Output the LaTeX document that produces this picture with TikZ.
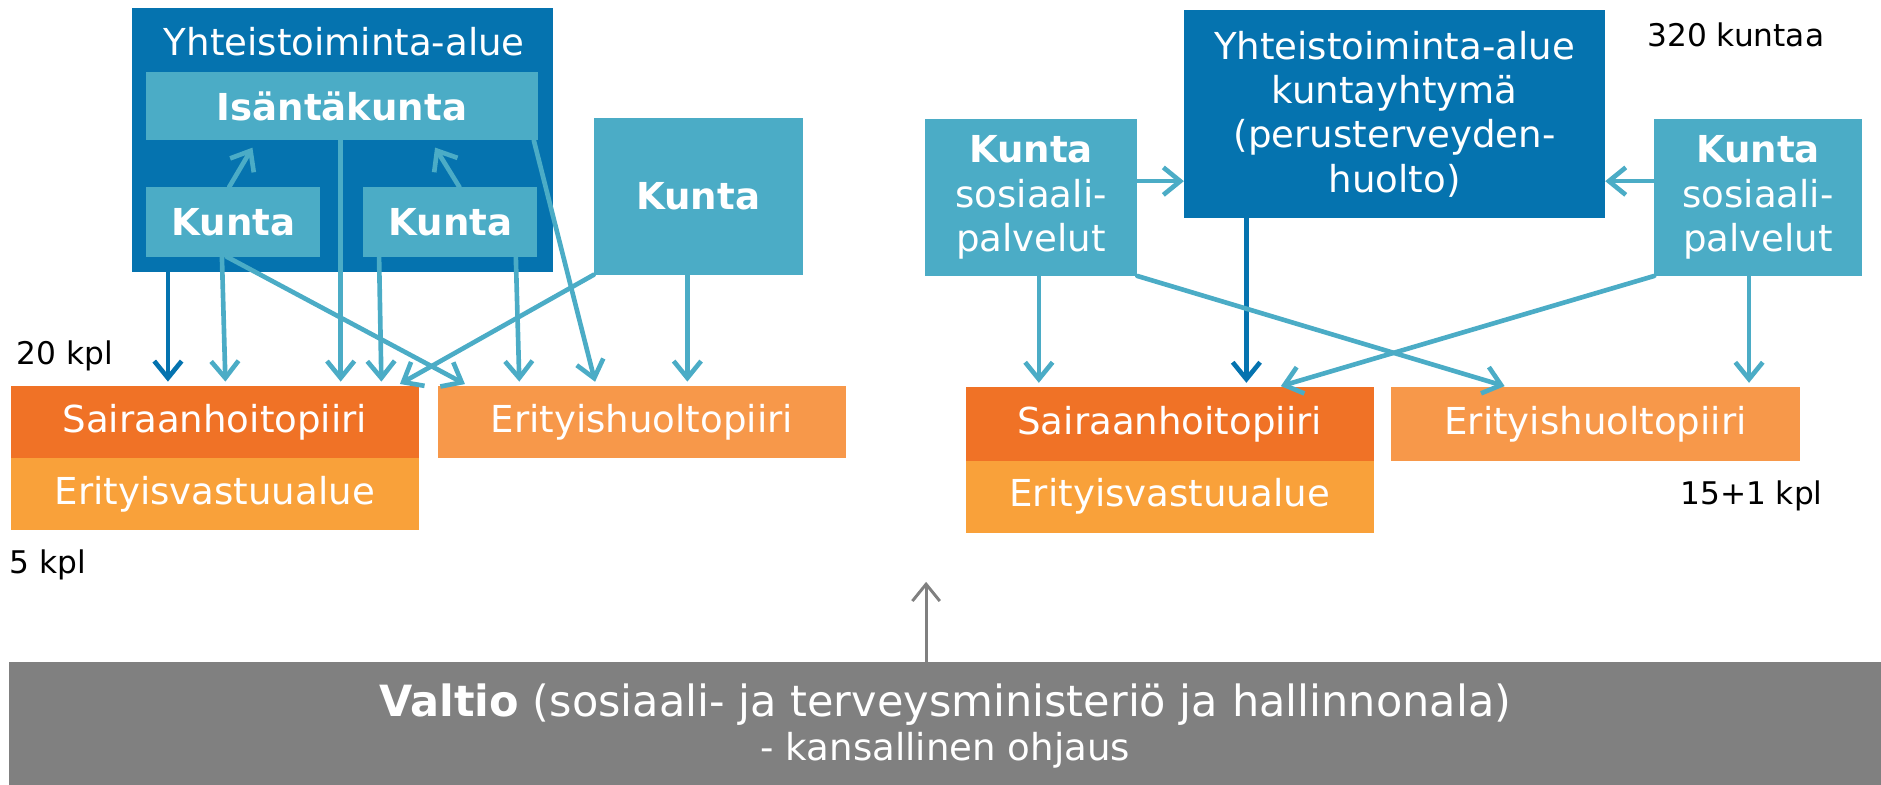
\documentclass[tikz,border=0pt]{standalone}
\usepackage{fontspec}
\setmainfont{DejaVu Sans}
\usepackage{tikz}
\usetikzlibrary{arrows.meta}
\definecolor{ytablue}{HTML}{0573AF}
\definecolor{kuntablue}{HTML}{4BACC6}
\definecolor{shporange}{HTML}{F07226}
\definecolor{ervaorange}{HTML}{F9A13A}
\definecolor{ehporange}{HTML}{F7984A}
\definecolor{valtiogray}{HTML}{808080}
\tikzset{
  box/.style={rectangle, inner sep=0pt, outer sep=0pt, text=white, align=center, font=\fontsize{8.8}{10.5}\selectfont},
  ytabox/.style={box, fill=ytablue},
  kuntabox/.style={box, fill=kuntablue},
  piiribox/.style={box, minimum width=3.40cm, minimum height=0.60cm},
  conn/.style={->, line width=1.1pt, draw=kuntablue, shorten >=1.1pt},
  darkconn/.style={conn, draw=ytablue},
  countlabel/.style={font=\fontsize{7.4}{9}\selectfont, inner sep=0pt}
}
\begin{document}
\begin{tikzpicture}[x=0.01cm, y=-0.01cm, line cap=round, line join=round, >={Straight Barb[length=4pt,width=6.5pt]}]
\useasboundingbox (0,0) rectangle (1568,654);
% vasen puoli
\node[ytabox, minimum width=3.51cm, minimum height=2.20cm] (ytaL) at (285.5,117) {};
\node[box] (ytaLtitle) at (287,35) {Yhteistoiminta-alue};
\node[kuntabox, minimum width=3.26cm, minimum height=0.57cm, font=\fontsize{8.8}{10.5}\selectfont\bfseries] (isanta) at (285,88.5) {Isäntäkunta};
\node[kuntabox, minimum width=1.45cm, minimum height=0.58cm, font=\fontsize{8.8}{10.5}\selectfont\bfseries] (kuntaA) at (194.5,185) {Kunta};
\node[kuntabox, minimum width=1.45cm, minimum height=0.58cm, font=\fontsize{8.8}{10.5}\selectfont\bfseries] (kuntaB) at (375.5,185) {Kunta};
\node[kuntabox, minimum width=1.74cm, minimum height=1.31cm, font=\fontsize{8.8}{10.5}\selectfont\bfseries] (kuntaC) at (582,163.5) {Kunta};
\node[piiribox, fill=shporange] (shpL) at (179,352) {Sairaanhoitopiiri};
\node[piiribox, fill=ervaorange] (ervaL) at (179,412) {Erityisvastuualue};
\node[piiribox, fill=ehporange] (ehpL) at (535,352) {Erityishuoltopiiri};
\node[countlabel] (kplL) at (54,297) {20 kpl};
\node[countlabel] (ervakplL) at (40,471) {5 kpl};
% oikea puoli
\node[ytabox, minimum width=3.51cm, minimum height=1.74cm] (ytaR) at (1162.5,95) {Yhteistoiminta-alue\\kuntayhtymä\\(perusterveyden-\\huolto)};
\node[kuntabox, minimum width=1.77cm, minimum height=1.31cm] (kuntaSL) at (859.5,164.5) {\textbf{Kunta}\\sosiaali-\\palvelut};
\node[kuntabox, minimum width=1.73cm, minimum height=1.31cm] (kuntaSR) at (1465.5,164.5) {\textbf{Kunta}\\sosiaali-\\palvelut};
\node[piiribox, fill=shporange, minimum height=0.61cm] (shpR) at (975,353.5) {Sairaanhoitopiiri};
\node[piiribox, fill=ervaorange] (ervaR) at (975,414) {Erityisvastuualue};
\node[piiribox, fill=ehporange, minimum height=0.61cm] (ehpR) at (1330,353.5) {Erityishuoltopiiri};
\node[countlabel] (kuntaluku) at (1447,29) {320 kuntaa};
\node[countlabel] (kplR) at (1460,413) {15+1 kpl};
% valtio
\node[box, fill=valtiogray, minimum width=15.60cm, minimum height=1.02cm] (valtio) at (788,603) {};
\node[box] (valtiotext) at (788,605) {{\fontsize{10.2}{12}\selectfont\textbf{Valtio} (sosiaali- ja terveysministeriö ja hallinnonala)}\\- kansallinen ohjaus};
\coordinate (valtiotip) at (772,485);
\draw[->, line width=0.7pt, draw=valtiogray] (valtio.north -| valtiotip) -- (valtiotip);
% nuolet vasen
\draw[darkconn] (ytaL.south -| 140,0) -- (shpL.north -| 140,0);
\draw[conn] (kuntaA.south -| 185,0) -- (shpL.north -| 188,0);
\draw[conn] (isanta.south -| 284,0) -- (shpL.north -| 284,0);
\draw[conn] (kuntaB.south -| 316,0) -- (shpL.north -| 318,0);
\draw[conn] (kuntaA.south -| 189,0) -- (ehpL.north -| 391,0);
\draw[conn] (kuntaC.south west) -- (shpL.north -| 330,0);
\draw[conn] (kuntaB.south -| 430,0) -- (ehpL.north -| 433,0);
\draw[conn] (isanta.south -| 445,0) -- (ehpL.north -| 497,0);
\draw[conn] (kuntaC.south -| 573,0) -- (ehpL.north -| 573,0);
\draw[conn, shorten >=2pt] (kuntaA.north -| 191,0) -- (isanta.south -| 214,0);
\draw[conn, shorten >=2pt] (kuntaB.north -| 383,0) -- (isanta.south -| 359,0);
% nuolet oikea
\draw[conn, shorten >=0pt] (kuntaSL.east |- 0,151) -- (ytaR.west |- 0,151);
\draw[conn, shorten >=0pt] (kuntaSR.west |- 0,151) -- (ytaR.east |- 0,151);
\draw[conn] (kuntaSL.south -| 866,0) -- (shpR.north -| 866,0);
\draw[darkconn] (ytaR.south -| 1039,0) -- (shpR.north -| 1039,0);
\draw[conn] (kuntaSR.south west) -- (shpR.north -| 1064,0);
\draw[conn] (kuntaSL.south east) -- (ehpR.north -| 1258,0);
\draw[conn] (kuntaSR.south -| 1458,0) -- (ehpR.north -| 1458,0);
\end{tikzpicture}
\end{document}
